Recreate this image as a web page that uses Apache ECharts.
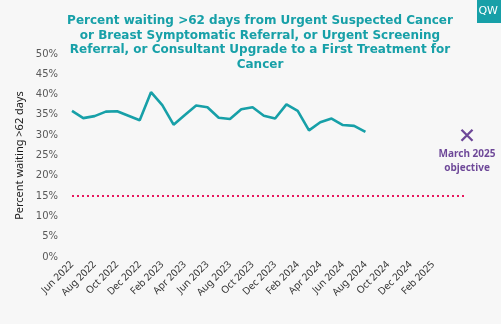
<!DOCTYPE html>
<html><head><meta charset="utf-8">
<script src="https://cdn.jsdelivr.net/npm/echarts@6/dist/echarts.min.js"></script>
<style>html,body{margin:0;padding:0;background:#f7f7f7}#c{width:501px;height:324px}</style>
</head><body><div id="c"></div>
<script>
const categories = ['Jun 2022','Jul 2022','Aug 2022','Sep 2022','Oct 2022','Nov 2022','Dec 2022','Jan 2023','Feb 2023','Mar 2023','Apr 2023','May 2023','Jun 2023','Jul 2023','Aug 2023','Sep 2023','Oct 2023','Nov 2023','Dec 2023','Jan 2024','Feb 2024','Mar 2024','Apr 2024','May 2024','Jun 2024','Jul 2024','Aug 2024','Sep 2024','Oct 2024','Nov 2024','Dec 2024','Jan 2025','Feb 2025','Mar 2025','Apr 2025','May 2025'];
const lastLabelled = 'Feb 2025';
const percentWaiting = [36.0,34.2,34.7,35.8,35.9,34.8,33.7,40.6,37.4,32.6,35.0,37.3,36.9,34.3,34.0,36.4,36.9,34.8,34.1,37.6,36.0,31.2,33.2,34.1,32.5,32.3,30.8];
const objectiveCategory = 'May 2025';
const objectiveValue = 30;
const objectiveLabel = 'March 2025\nobjective';
const standardValue = 15;
const yTicks = [0,5,10,15,20,25,30,35,40,45,50];
const titleText = 'Percent waiting >62 days from Urgent Suspected Cancer\nor Breast Symptomatic Referral, or Urgent Screening\nReferral, or Consultant Upgrade to a First Treatment for\nCancer';
const logoText = 'QW';

const lastIdx = categories.indexOf(lastLabelled);
const chart = echarts.init(document.getElementById('c'), null, {renderer:'canvas'});
chart.setOption({
  backgroundColor:'#f7f7f7',
  animation:false,
  title:{text:titleText,left:255,top:9,textAlign:'center',
    textStyle:{color:'#17a0a8',fontFamily:'DejaVu Sans',fontWeight:'bold',fontSize:12,lineHeight:14.5}},
  graphic:[
    {type:'rect',right:0,top:0,shape:{width:24,height:23},style:{fill:'#17a0a8'},z:10},
    {type:'text',right:3,top:6,style:{text:logoText,fill:'#ffffff',font:'11px "DejaVu Sans"'},z:11}
  ],
  grid:{left:72,right:34,top:54,bottom:67},
  xAxis:{type:'category',data:categories,boundaryGap:false,
    axisLine:{show:false},axisTick:{show:false},
    axisLabel:{rotate:45,interval:(i)=> i%2===0 && i<=lastIdx,color:'#333333',fontFamily:'Noto Sans',fontSize:10,margin:6}},
  yAxis:{type:'value',min:yTicks[0],max:yTicks[yTicks.length-1],interval:yTicks[1]-yTicks[0],
    name:'Percent waiting >62 days',nameLocation:'middle',nameGap:46,
    nameTextStyle:{color:'#1a1a1a',fontFamily:'Noto Sans',fontSize:11},
    axisLine:{show:false},axisTick:{show:false},splitLine:{show:false},
    axisLabel:{formatter:'{value}%',color:'#595959',fontFamily:'DejaVu Sans',fontSize:10,margin:14}},
  series:[
    {type:'line',data:percentWaiting,symbol:'none',lineStyle:{color:'#17a0a8',width:2.6},z:3,
     markLine:{silent:true,symbol:'none',label:{show:false},
       lineStyle:{color:'#e8175d',type:[2,3],width:2.2},
       data:[[{coord:[categories[0],standardValue]},{coord:[objectiveCategory,standardValue]}]]}},
    {type:'scatter',data:[[objectiveCategory,objectiveValue]],
     symbol:'path://M0,0L10,10M10,0L0,10',symbolSize:11,
     itemStyle:{color:'none',borderColor:'#4a1a7f',borderWidth:2.3},
     label:{show:true,position:'bottom',distance:4,formatter:objectiveLabel,color:'#4a1a7f',
       fontFamily:'Noto Sans',fontWeight:'bold',fontSize:10,lineHeight:14,align:'center'}}
  ]
});
</script></body></html>
